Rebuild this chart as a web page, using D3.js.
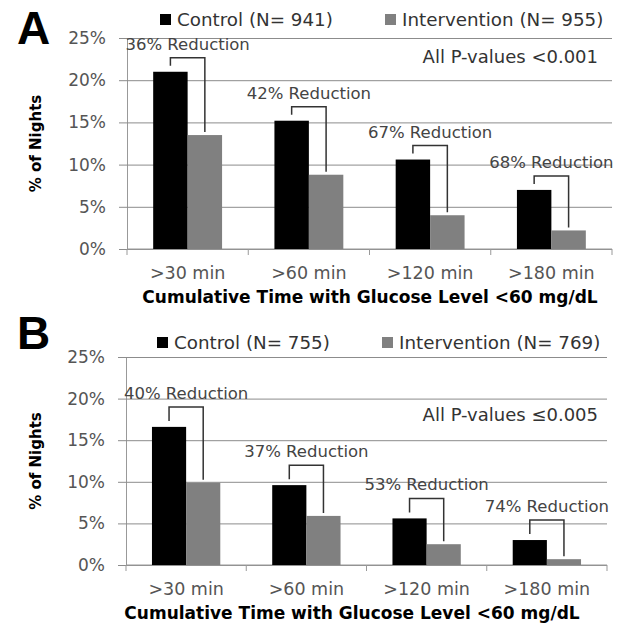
<!DOCTYPE html>
<html>
<head>
<meta charset="utf-8">
<script src="https://cdn.jsdelivr.net/npm/d3@7"></script>
<style>
  body { margin: 0; background: #fff; }
  text { font-family: "DejaVu Sans", Verdana, sans-serif; }
</style>
</head>
<body>
<script>
// chart values
const categories = [">30 min", ">60 min", ">120 min", ">180 min"];
const yTicks = [0, 5, 10, 15, 20, 25];
const seriesKeys = ["control", "intervention"];

const controlA = [21.0, 15.2, 10.6, 7.0];
const interventionA = [13.5, 8.8, 4.0, 2.2];
const reductionA = ["36% Reduction", "42% Reduction", "67% Reduction", "68% Reduction"];
const legendA = ["Control (N= 941)", "Intervention (N= 955)"];
const pValueA = "All P-values <0.001";

const controlB = [16.6, 9.6, 5.6, 3.0];
const interventionB = [9.9, 5.9, 2.5, 0.7];
const reductionB = ["40% Reduction", "37% Reduction", "53% Reduction", "74% Reduction"];
const legendB = ["Control (N= 755)", "Intervention (N= 769)"];
const pValueB = "All P-values \u22640.005";

const xTitle = "Cumulative Time with Glucose Level <60 mg/dL";
const yTitle = "% of Nights";

const colors = { control: "#000000", intervention: "#808080" };

var W = 617, H = 623;
var svg = d3.select("body").append("svg")
  .attr("width", W)
  .attr("height", H);

//layout of each panel (pixels)
var panels = [
  { letter: "A", control: controlA, intervention: interventionA, reduction: reductionA,
    legend: legendA, pValue: pValueA,
    top: 38, bottom: 249, left: 127, right: 612,
    letterY: 44, legendY: 20, legendX: [160, 385], pY: 63, titleX: 370, titleY: 303, gap: 14 },
  { letter: "B", control: controlB, intervention: interventionB, reduction: reductionB,
    legend: legendB, pValue: pValueB,
    top: 357, bottom: 565, left: 126, right: 607,
    letterY: 349, legendY: 343, legendX: [157, 382], pY: 421, titleX: 352, titleY: 619, gap: 20 }
];

panels.forEach(function(p){ drawPanel(p); });

function drawPanel(p){
  var g = svg.append("g");

  var y = d3.scaleLinear().domain([0, 25]).range([p.bottom, p.top]);
  var x = d3.scaleBand().domain(categories).range([p.left, p.right]).padding(0);
  var xs = d3.scaleBand().domain(seriesKeys).range([0, x.bandwidth()])
    .paddingInner(0).paddingOuter(0.76);

  // gridlines + y axis
  var yAxis = d3.axisLeft(y)
    .tickValues(yTicks)
    .tickFormat(function(d){ return d + "%"; })
    .tickSizeInner(-(p.right - p.left))
    .tickSizeOuter(0)
    .tickPadding(21);

  var ya = g.append("g")
    .attr("transform", "translate(" + p.left + ",0)")
    .call(yAxis);
  ya.select(".domain").attr("stroke", "#999");
  ya.selectAll(".tick line")
    .attr("x1", -8)
    .attr("stroke", "#8c8c8c");
  ya.selectAll(".tick text")
    .attr("fill", "#555")
    .style("font-size", "17px")
    .style("font-family", "DejaVu Sans");

  // x axis baseline with ticks at category borders
  var xa = g.append("g");
  xa.append("line")
    .attr("x1", p.left).attr("x2", p.right)
    .attr("y1", y(0)).attr("y2", y(0))
    .attr("stroke", "#999");
  xa.selectAll(".cat-tick")
    .data(d3.range(categories.length + 1))
    .enter()
    .append("line")
    .attr("x1", function(i){ return p.left + i * x.step(); })
    .attr("x2", function(i){ return p.left + i * x.step(); })
    .attr("y1", y(0))
    .attr("y2", y(0) + 6)
    .attr("stroke", "#999");
  xa.selectAll(".cat-label")
    .data(categories)
    .enter()
    .append("text")
    .attr("x", function(d){ return x(d) + x.bandwidth() / 2; })
    .attr("y", y(0) + 30)
    .attr("text-anchor", "middle")
    .attr("fill", "#555")
    .style("font-size", "17.5px")
    .text(function(d){ return d; });

  // bars
  var rows = categories.map(function(c, i){
    return { cat: c, control: p.control[i], intervention: p.intervention[i], label: p.reduction[i] };
  });

  var grp = g.selectAll(".grp")
    .data(rows)
    .enter()
    .append("g")
    .attr("transform", function(d){ return "translate(" + x(d.cat) + ",0)"; });

  grp.selectAll("rect")
    .data(function(d){ return seriesKeys.map(function(k){ return { key: k, value: d[k] }; }); })
    .enter()
    .append("rect")
    .attr("x", function(d){ return xs(d.key); })
    .attr("y", function(d){ return y(d.value); })
    .attr("width", xs.bandwidth())
    .attr("height", function(d){ return y(0) - y(d.value); })
    .attr("fill", function(d){ return colors[d.key]; });

  // reduction brackets
  grp.append("path")
    .attr("d", function(d){
      var xl = xs("control") + xs.bandwidth() / 2;
      var xr = xs("intervention") + xs.bandwidth() / 2;
      var top = y(d.control) - p.gap;
      return "M" + xl + "," + (y(d.control) - 6) + "V" + top + "H" + xr + "V" + (y(d.intervention) - 3);
    })
    .attr("fill", "none")
    .attr("stroke", "#333")
    .attr("stroke-width", 1.5);

  grp.append("text")
    .attr("x", x.bandwidth() / 2)
    .attr("y", function(d){ return y(d.control) - p.gap - 8; })
    .attr("text-anchor", "middle")
    .attr("fill", "#444")
    .style("font-size", "16.5px")
    .text(function(d){ return d.label; });

  // legend
  seriesKeys.forEach(function(k, i){
    g.append("rect")
      .attr("x", p.legendX[i])
      .attr("y", p.legendY - 6)
      .attr("width", 11)
      .attr("height", 11)
      .attr("fill", colors[k]);
    g.append("text")
      .attr("x", p.legendX[i] + 17)
      .attr("y", p.legendY + 6)
      .attr("fill", "#333")
      .style("font-size", "18.3px")
      .text(p.legend[i]);
  });

  // p-value note
  g.append("text")
    .attr("x", 598)
    .attr("y", p.pY)
    .attr("text-anchor", "end")
    .attr("fill", "#333")
    .style("font-size", "18px")
    .text(p.pValue);

  // panel letter
  g.append("text")
    .attr("x", 17)
    .attr("y", p.letterY)
    .style("font-family", "Liberation Sans, Arial, sans-serif")
    .style("font-weight", "bold")
    .style("font-size", "46px")
    .text(p.letter);

  // axis titles
  g.append("text")
    .attr("x", p.titleX)
    .attr("y", p.titleY)
    .attr("text-anchor", "middle")
    .style("font-weight", "bold")
    .style("font-size", "17px")
    .text(xTitle);

  g.append("text")
    .attr("transform", "translate(41," + ((p.top + p.bottom) / 2) + ") rotate(-90)")
    .attr("text-anchor", "middle")
    .style("font-weight", "bold")
    .style("font-size", "15px")
    .text(yTitle);
}
</script>
</body>
</html>
